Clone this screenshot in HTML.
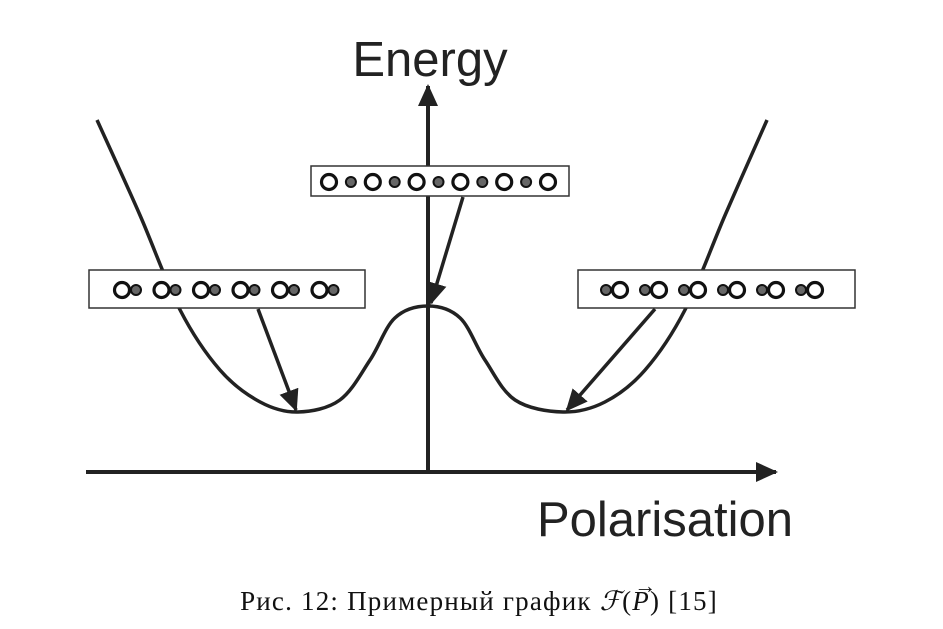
<!DOCTYPE html>
<html><head><meta charset="utf-8"><style>
body{margin:0;background:#fff;position:relative;width:943px;height:629px;overflow:hidden;}
svg{display:block;}
#caption{position:absolute;left:0;width:958px;top:586px;text-align:center;font-family:"Liberation Serif",serif;font-size:27px;letter-spacing:1.2px;color:#111;white-space:nowrap;}
.vec{position:relative;display:inline-block;font-style:italic;}
.vec:before{content:"→";position:absolute;left:2px;top:-13px;font-size:22px;font-style:normal;}
</style></head><body>
<svg width="943" height="629" viewBox="0 0 943 629">
<defs>
<marker id="ahb" markerWidth="22" markerHeight="22" refX="20" refY="11" orient="auto" markerUnits="userSpaceOnUse">
<path d="M0,1 L22,11 L0,21 z" fill="#222"/></marker>
</defs>
<g id="curve-layer"></g>
<line x1="86" y1="472" x2="776" y2="472" stroke="#222" stroke-width="4" marker-end="url(#ahb)"/>
<line x1="428" y1="472" x2="428" y2="86" stroke="#222" stroke-width="4" marker-end="url(#ahb)"/>
<text x="430" y="76" font-family="Liberation Sans, sans-serif" font-size="49" text-anchor="middle" fill="#222">Energy</text>
<text x="665" y="536" font-family="Liberation Sans, sans-serif" font-size="49" text-anchor="middle" fill="#222">Polarisation</text>
<g id="box-layer"></g>
</svg>
<div id="caption">Рис. 12: Примерный график <i>ℱ</i>(<span class="vec">P</span>) [15]</div>
<script>
const polarisation=[-0.988,-0.860,-0.740,-0.621,-0.501,-0.388,-0.263,-0.173,-0.099,0,0.096,0.170,0.260,0.403,0.528,0.648,0.767,0.887,1.012];
const energy=[3.52,2.57,1.62,1.02,0.70,0.60,0.72,1.12,1.54,1.66,1.54,1.12,0.72,0.60,0.70,1.02,1.62,2.57,3.52];
const NS="http://www.w3.org/2000/svg";
const sx=p=>428+p*335, sy=e=>472-e*100;
const pts=polarisation.map((p,i)=>[sx(p),sy(energy[i])]);
let d="M"+pts[0][0]+","+pts[0][1];
for(let i=0;i<pts.length-1;i++){
 const p0=pts[Math.max(i-1,0)],p1=pts[i],p2=pts[i+1],p3=pts[Math.min(i+2,pts.length-1)];
 d+=` C${p1[0]+(p2[0]-p0[0])/6},${p1[1]+(p2[1]-p0[1])/6} ${p2[0]-(p3[0]-p1[0])/6},${p2[1]-(p3[1]-p1[1])/6} ${p2[0]},${p2[1]}`;
}
const curve=document.createElementNS(NS,"path");
curve.setAttribute("d",d);curve.setAttribute("fill","none");curve.setAttribute("stroke","#222");curve.setAttribute("stroke-width","3.5");


document.getElementById("curve-layer").appendChild(curve);
const bl=document.getElementById("box-layer");
function arrow(x1,y1,x2,y2,name){
 const l=document.createElementNS(NS,"line");
 l.setAttribute("x1",x1);l.setAttribute("y1",y1);l.setAttribute("x2",x2);l.setAttribute("y2",y2);
 l.setAttribute("stroke","#222");l.setAttribute("stroke-width","3.5");l.setAttribute("marker-end","url(#ahb)");
 
 
 bl.appendChild(l);
}
arrow(463,197,431,303,"arrow-center");
arrow(258,309,296,410,"arrow-left");
arrow(655,309,567,410,"arrow-right");
function box(x,y,w,h,name,items){
 const g=document.createElementNS(NS,"g");
 
 
 const r=document.createElementNS(NS,"rect");
 r.setAttribute("x",x);r.setAttribute("y",y);r.setAttribute("width",w);r.setAttribute("height",h);
 r.setAttribute("fill","#fff");r.setAttribute("stroke","#333");r.setAttribute("stroke-width","1.5");
 g.appendChild(r);
 items.forEach(([cx,big])=>{
  const c=document.createElementNS(NS,"circle");
  c.setAttribute("cx",cx);c.setAttribute("cy",y+h/2+1);
  if(big){c.setAttribute("r","7.5");c.setAttribute("fill","#fff");c.setAttribute("stroke","#111");c.setAttribute("stroke-width","3.2");}
  else{c.setAttribute("r","5");c.setAttribute("fill","#666");c.setAttribute("stroke","#111");c.setAttribute("stroke-width","2");}
  g.appendChild(c);
 });
 bl.appendChild(g);
}
const ci=[];for(let i=0;i<11;i++)ci.push([329+i*21.9,i%2==0]);
box(311,166,258,30,"config-box-center",ci);
const li=[];for(let i=0;i<6;i++){li.push([122+i*39.5,true]);li.push([136+i*39.5,false]);}
box(89,270,276,38,"config-box-left",li);
const ri=[];for(let i=0;i<6;i++){ri.push([606+i*39,false]);ri.push([620+i*39,true]);}
box(578,270,277,38,"config-box-right",ri);
</script>
</body></html>
